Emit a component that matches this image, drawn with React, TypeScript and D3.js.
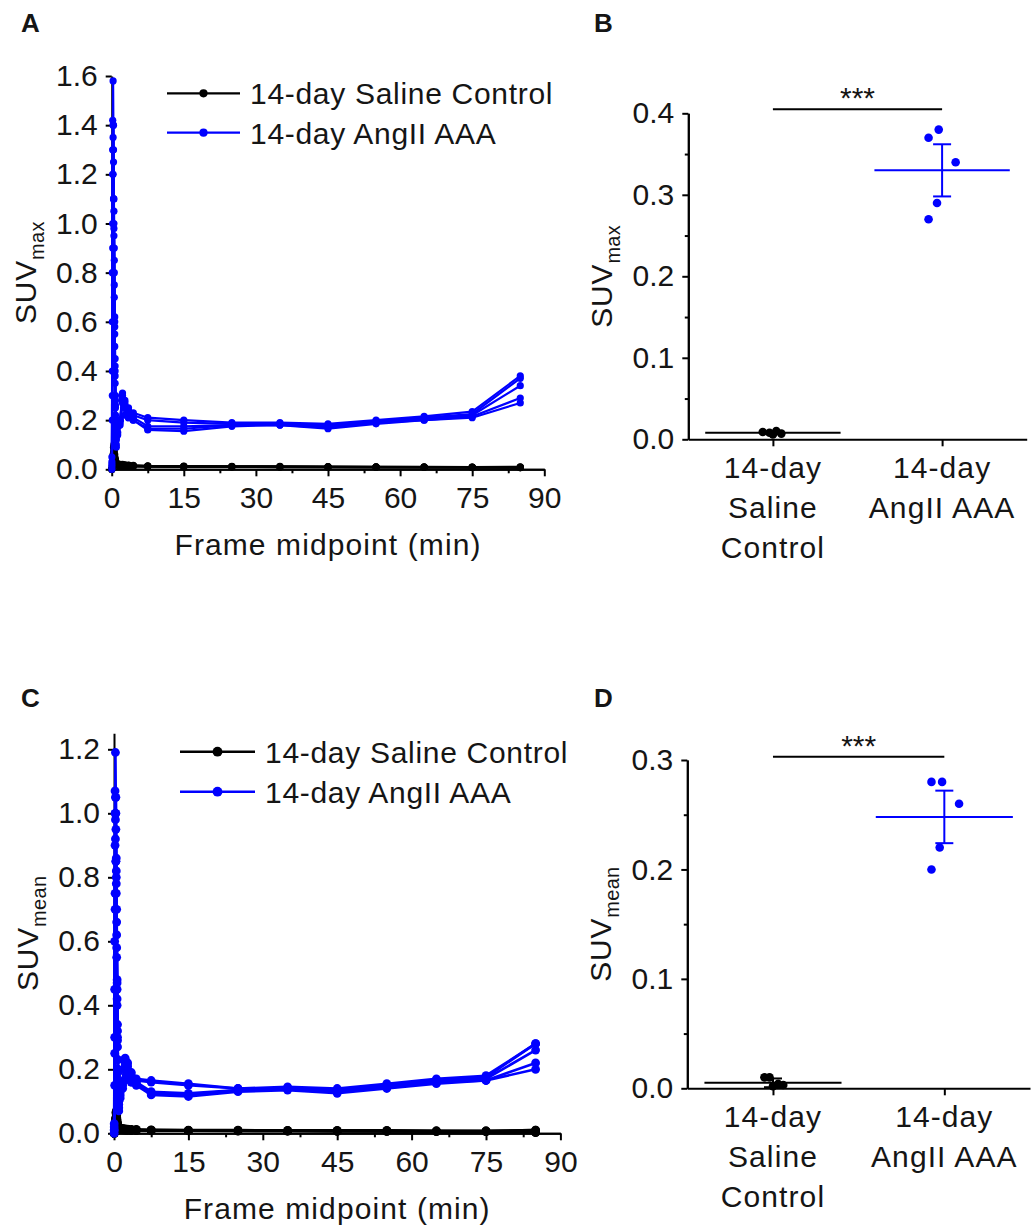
import { useEffect, useRef } from 'react'
import * as d3 from 'd3'

const FONT = '"Liberation Sans", Arial, Helvetica, sans-serif'
const BLACK = '#000000'
const BLUE = '#0000ff'
const TEXT = '#151515'

// frame midpoints (min) of the dynamic scan
const FRAME_MID = [0.04, 0.13, 0.21, 0.29, 0.38, 0.46, 0.54, 0.63, 0.71, 0.79, 0.88, 0.96,
  1.25, 1.75, 2.25, 2.75, 3.5, 4.5, 7.5, 15, 25, 35, 45, 55, 65, 75, 85]
const TIME_TICKS = [0, 15, 30, 45, 60, 75, 90]
const TIME_MINOR = [7.5, 22.5, 37.5, 52.5, 67.5, 82.5]

const LEGEND = ['14-day Saline Control', '14-day AngII AAA']
const CATEGORIES = ['saline', 'angii']
const CATEGORY_LINES = [['14-day', 'Saline', 'Control'], ['14-day', 'AngII AAA']]

// panel A : SUVmax time courses
const SUVMAX_SALINE = [
  [0, 0.01, 0.03, 0.06, 0.09, 0.1, 0.08, 0.06, 0.045, 0.035, 0.03, 0.025, 0.022, 0.02, 0.02, 0.018, 0.017, 0.016, 0.014, 0.013, 0.012, 0.012, 0.011, 0.01, 0.01, 0.009, 0.009],
  [0, 0.005, 0.02, 0.04, 0.07, 0.085, 0.07, 0.05, 0.04, 0.03, 0.025, 0.022, 0.02, 0.019, 0.018, 0.017, 0.016, 0.015, 0.013, 0.012, 0.011, 0.011, 0.01, 0.01, 0.009, 0.008, 0.008],
  [0, 0.015, 0.04, 0.05, 0.06, 0.055, 0.05, 0.045, 0.035, 0.028, 0.024, 0.02, 0.018, 0.017, 0.016, 0.015, 0.014, 0.013, 0.012, 0.011, 0.011, 0.01, 0.01, 0.009, 0.009, 0.009, 0.01],
  [0, 0.008, 0.025, 0.045, 0.05, 0.045, 0.04, 0.035, 0.03, 0.025, 0.022, 0.02, 0.018, 0.016, 0.015, 0.014, 0.013, 0.013, 0.012, 0.011, 0.01, 0.01, 0.009, 0.009, 0.008, 0.008, 0.007],
  [0, 0.004, 0.015, 0.03, 0.04, 0.042, 0.038, 0.032, 0.028, 0.024, 0.02, 0.018, 0.016, 0.015, 0.014, 0.013, 0.012, 0.012, 0.011, 0.01, 0.01, 0.009, 0.009, 0.008, 0.008, 0.007, 0.006],
]
const SUVMAX_ANGII = [
  [0.02, 0.4, 1.2, 1.58, 1.3, 1.0, 0.75, 0.55, 0.4, 0.28, 0.18, 0.12, 0.15, 0.2, 0.31, 0.28, 0.25, 0.23, 0.21, 0.2, 0.19, 0.19, 0.185, 0.2, 0.215, 0.235, 0.38],
  [0.05, 0.8, 1.42, 1.3, 1.1, 0.95, 0.8, 0.6, 0.45, 0.3, 0.2, 0.14, 0.18, 0.19, 0.29, 0.27, 0.24, 0.22, 0.2, 0.19, 0.185, 0.185, 0.18, 0.195, 0.21, 0.225, 0.37],
  [0, 0.2, 0.9, 1.4, 1.25, 1.05, 0.85, 0.62, 0.42, 0.25, 0.15, 0.1, 0.14, 0.2, 0.3, 0.26, 0.22, 0.21, 0.175, 0.175, 0.18, 0.185, 0.175, 0.19, 0.205, 0.22, 0.34],
  [0.03, 0.6, 1.3, 1.2, 1.4, 1.1, 0.9, 0.58, 0.38, 0.22, 0.12, 0.09, 0.19, 0.18, 0.27, 0.25, 0.21, 0.2, 0.165, 0.165, 0.18, 0.18, 0.17, 0.19, 0.2, 0.215, 0.29],
  [0.01, 0.3, 1.0, 1.35, 1.1, 0.98, 0.7, 0.5, 0.35, 0.26, 0.17, 0.13, 0.17, 0.2, 0.28, 0.22, 0.21, 0.2, 0.16, 0.155, 0.175, 0.18, 0.165, 0.185, 0.2, 0.21, 0.27],
]
const SUVMAX_TICKS = [0, 0.2, 0.4, 0.6, 0.8, 1.0, 1.2, 1.4, 1.6]

// panel C : SUVmean time courses
const SUVMEAN_SALINE = [
  [0, 0.008, 0.02, 0.045, 0.065, 0.07, 0.055, 0.042, 0.032, 0.025, 0.02, 0.018, 0.016, 0.015, 0.014, 0.013, 0.012, 0.012, 0.011, 0.01, 0.01, 0.009, 0.009, 0.009, 0.008, 0.008, 0.01],
  [0, 0.004, 0.015, 0.03, 0.05, 0.06, 0.05, 0.036, 0.028, 0.022, 0.018, 0.016, 0.015, 0.014, 0.013, 0.012, 0.011, 0.011, 0.01, 0.009, 0.009, 0.008, 0.008, 0.008, 0.007, 0.007, 0.01],
  [0, 0.01, 0.028, 0.036, 0.042, 0.04, 0.036, 0.032, 0.026, 0.02, 0.017, 0.015, 0.014, 0.013, 0.012, 0.011, 0.01, 0.01, 0.009, 0.008, 0.008, 0.008, 0.007, 0.007, 0.007, 0.006, 0.004],
  [0, 0.006, 0.018, 0.032, 0.036, 0.032, 0.028, 0.025, 0.022, 0.018, 0.016, 0.014, 0.013, 0.012, 0.011, 0.01, 0.01, 0.009, 0.009, 0.008, 0.008, 0.007, 0.007, 0.006, 0.006, 0.005, 0.003],
  [0, 0.003, 0.01, 0.022, 0.028, 0.03, 0.027, 0.023, 0.02, 0.017, 0.014, 0.013, 0.012, 0.011, 0.01, 0.01, 0.009, 0.009, 0.008, 0.008, 0.007, 0.007, 0.006, 0.006, 0.005, 0.005, 0.002],
]
const SUVMEAN_ANGII = [
  [0.01, 0.3, 0.9, 1.19, 1.0, 0.8, 0.58, 0.42, 0.3, 0.2, 0.13, 0.09, 0.12, 0.16, 0.235, 0.22, 0.19, 0.17, 0.165, 0.155, 0.14, 0.145, 0.14, 0.155, 0.17, 0.18, 0.28],
  [0.03, 0.6, 1.07, 0.98, 0.85, 0.75, 0.62, 0.47, 0.34, 0.23, 0.15, 0.1, 0.14, 0.15, 0.22, 0.21, 0.18, 0.165, 0.16, 0.15, 0.14, 0.14, 0.135, 0.15, 0.165, 0.175, 0.28],
  [0, 0.15, 0.7, 1.05, 0.95, 0.82, 0.66, 0.48, 0.32, 0.19, 0.11, 0.08, 0.11, 0.16, 0.23, 0.2, 0.17, 0.16, 0.13, 0.125, 0.135, 0.14, 0.135, 0.15, 0.16, 0.17, 0.26],
  [0.02, 0.45, 1.0, 0.92, 1.05, 0.86, 0.7, 0.45, 0.29, 0.17, 0.09, 0.07, 0.15, 0.14, 0.21, 0.19, 0.16, 0.155, 0.125, 0.12, 0.135, 0.14, 0.13, 0.145, 0.16, 0.165, 0.22],
  [0.01, 0.25, 0.75, 1.0, 0.85, 0.78, 0.55, 0.4, 0.27, 0.2, 0.12, 0.1, 0.13, 0.16, 0.2, 0.17, 0.16, 0.15, 0.12, 0.115, 0.13, 0.135, 0.125, 0.14, 0.155, 0.165, 0.2],
]
const SUVMEAN_TICKS = [0, 0.2, 0.4, 0.6, 0.8, 1.0, 1.2]

// panel B : last-frame SUVmax per animal
const MAX_SALINE_DOTS = [0.009, 0.008, 0.01, 0.007, 0.006]
const MAX_SALINE_JITTER = [-0.06, -0.02, 0.02, 0.05, 0.0]
const MAX_ANGII_DOTS = [0.37, 0.38, 0.34, 0.29, 0.27]
const MAX_ANGII_JITTER = [-0.08, -0.02, 0.08, -0.03, -0.08]
const MAX_MEANS = [0.008, 0.33]
const MAX_ERRS = [0.001, 0.032]
const MAX_SCATTER_TICKS = [0, 0.1, 0.2, 0.3, 0.4]
const MAX_SCATTER_MINOR = [0.05, 0.15, 0.25, 0.35]

// panel D : last-frame SUVmean per animal
const MEAN_SALINE_DOTS = [0.01, 0.01, 0.004, 0.003, 0.002]
const MEAN_SALINE_JITTER = [-0.05, -0.02, 0.03, 0.06, 0.0]
const MEAN_ANGII_DOTS = [0.28, 0.28, 0.26, 0.22, 0.2]
const MEAN_ANGII_JITTER = [-0.075, -0.013, 0.086, -0.027, -0.075]
const MEAN_MEANS = [0.005, 0.248]
const MEAN_ERRS = [0.004, 0.024]
const MEAN_SCATTER_TICKS = [0, 0.1, 0.2, 0.3]
const MEAN_SCATTER_MINOR = [0.05, 0.15, 0.25]

function styleAxis(ax) {
  ax.select('.domain').attr('stroke', BLACK).attr('stroke-width', 2)
  ax.selectAll('.tick line').attr('stroke', BLACK).attr('stroke-width', 2)
  ax.selectAll('text').attr('font-size', 30).attr('font-family', FONT).attr('fill', TEXT)
}

function yLabel(svg, x, y, sub) {
  const t = svg.append('text')
    .attr('transform', `translate(${x},${y}) rotate(-90)`)
    .attr('text-anchor', 'middle')
    .attr('font-family', FONT)
    .attr('font-size', 30)
    .attr('letter-spacing', 0.8)
    .attr('fill', TEXT)
  t.append('tspan').text('SUV')
  t.append('tspan').attr('font-size', 20).attr('letter-spacing', 0.3).attr('dy', 8).text(sub)
}

function panelLetter(svg, x, y, s) {
  svg.append('text').attr('x', x).attr('y', y)
    .attr('font-family', FONT).attr('font-weight', 'bold').attr('font-size', 26)
    .attr('fill', TEXT)
    .text(s)
}

function timeCourse(svg, cfg) {
  const x = d3.scaleLinear().domain([0, 90]).range([cfg.left, cfg.right])
  const y = d3.scaleLinear().domain([0, cfg.yMax]).range([cfg.bottom, cfg.top])

  // minor x ticks
  svg.append('g')
    .attr('transform', `translate(0,${cfg.bottom})`)
    .call(d3.axisBottom(x).tickValues(TIME_MINOR).tickSize(4).tickSizeOuter(0).tickFormat(() => ''))
    .call(styleAxis)

  svg.append('g')
    .attr('transform', `translate(0,${cfg.bottom})`)
    .call(d3.axisBottom(x).tickValues(TIME_TICKS).tickSize(7).tickSizeOuter(0).tickPadding(10))
    .call(styleAxis)

  svg.append('g')
    .attr('transform', `translate(${cfg.left},0)`)
    .call(d3.axisLeft(y).tickValues(cfg.yTicks).tickFormat(d3.format('.1f')).tickSize(6).tickSizeOuter(0).tickPadding(8))
    .call(styleAxis)

  const line = d3.line().x((d, i) => x(FRAME_MID[i])).y(d => y(d))

  const groups = [[cfg.saline, BLACK], [cfg.angii, BLUE]]
  groups.forEach(([rows, color]) => {
    rows.forEach(row => {
      svg.append('path').datum(row)
        .attr('d', line)
        .attr('fill', 'none')
        .attr('stroke', color)
        .attr('stroke-width', cfg.lw)
        .attr('stroke-linejoin', 'round')
      svg.append('g').selectAll('circle')
        .data(row)
        .join('circle')
        .attr('cx', (d, i) => x(FRAME_MID[i]))
        .attr('cy', d => y(d))
        .attr('r', cfg.r)
        .attr('fill', color)
    })
  })

  // legend
  LEGEND.forEach((label, i) => {
    const color = i === 0 ? BLACK : BLUE
    const ly = cfg.legendY + i * cfg.legendGap
    svg.append('line')
      .attr('x1', cfg.legendX).attr('x2', cfg.legendX + cfg.legendLen)
      .attr('y1', ly).attr('y2', ly)
      .attr('stroke', color).attr('stroke-width', cfg.lw)
    svg.append('circle')
      .attr('cx', cfg.legendX + cfg.legendLen / 2).attr('cy', ly)
      .attr('r', cfg.r + 0.5).attr('fill', color)
    svg.append('text')
      .attr('x', cfg.legendX + cfg.legendLen + 10).attr('y', ly)
      .attr('dy', '0.36em')
      .attr('font-family', FONT).attr('font-size', 30).attr('fill', TEXT)
      .attr('letter-spacing', 0.7)
      .text(label)
  })

  svg.append('text')
    .attr('x', (cfg.left + cfg.right) / 2).attr('y', cfg.bottom + 86)
    .attr('text-anchor', 'middle')
    .attr('font-family', FONT).attr('font-size', 30).attr('fill', TEXT)
    .attr('letter-spacing', 1.1)
    .text('Frame midpoint (min)')

  yLabel(svg, cfg.left - 76, (cfg.top + cfg.bottom) / 2, cfg.sub)
}

function scatterPanel(svg, cfg) {
  const x = d3.scalePoint().domain(CATEGORIES).range([cfg.left, cfg.right]).padding(0.5)
  const step = x.step()
  const y = d3.scaleLinear().domain([0, cfg.yMax]).range([cfg.bottom, cfg.top])

  svg.append('g')
    .attr('transform', `translate(${cfg.left},0)`)
    .call(d3.axisLeft(y).tickValues(cfg.minor).tickSize(3.5).tickSizeOuter(0).tickFormat(() => ''))
    .call(styleAxis)
  svg.append('g')
    .attr('transform', `translate(${cfg.left},0)`)
    .call(d3.axisLeft(y).tickValues(cfg.yTicks).tickFormat(d3.format('.1f')).tickSize(6).tickSizeOuter(0).tickPadding(8))
    .call(styleAxis)
  svg.append('g')
    .attr('transform', `translate(0,${cfg.bottom})`)
    .call(d3.axisBottom(x).tickSize(7).tickSizeOuter(0).tickFormat(() => ''))
    .call(styleAxis)

  // category labels
  CATEGORIES.forEach((c, i) => {
    CATEGORY_LINES[i].forEach((s, j) => {
      svg.append('text')
        .attr('x', x(c)).attr('y', cfg.bottom + 39 + j * 40)
        .attr('text-anchor', 'middle')
        .attr('font-family', FONT).attr('font-size', 30).attr('fill', TEXT)
        .attr('letter-spacing', 1.1)
        .text(s)
    })
  })

  const sets = [
    { cat: 'saline', dots: cfg.salineDots, jitter: cfg.salineJitter, color: BLACK, i: 0 },
    { cat: 'angii', dots: cfg.angiiDots, jitter: cfg.angiiJitter, color: BLUE, i: 1 },
  ]
  sets.forEach(s => {
    const cx = x(s.cat)
    const m = cfg.means[s.i]
    const e = cfg.errs[s.i]
    svg.append('g').selectAll('circle')
      .data(s.dots)
      .join('circle')
      .attr('cx', (d, k) => cx + s.jitter[k] * step)
      .attr('cy', d => y(d))
      .attr('r', 4.3)
      .attr('fill', s.color)
    // mean line
    svg.append('line')
      .attr('x1', cx - step * 0.4).attr('x2', cx + step * 0.4)
      .attr('y1', y(m)).attr('y2', y(m))
      .attr('stroke', s.color).attr('stroke-width', 2)
    // error bar
    svg.append('line')
      .attr('x1', cx).attr('x2', cx)
      .attr('y1', y(m - e)).attr('y2', y(m + e))
      .attr('stroke', s.color).attr('stroke-width', 2)
    ;[m - e, m + e].forEach(v => {
      svg.append('line')
        .attr('x1', cx - 9).attr('x2', cx + 9)
        .attr('y1', y(v)).attr('y2', y(v))
        .attr('stroke', s.color).attr('stroke-width', 2)
    })
  })

  // significance bracket
  const sy = y(cfg.sigLevel)
  svg.append('line')
    .attr('x1', x('saline')).attr('x2', x('angii'))
    .attr('y1', sy).attr('y2', sy)
    .attr('stroke', BLACK).attr('stroke-width', 2)
  svg.append('text')
    .attr('x', (x('saline') + x('angii')) / 2).attr('y', sy - 1)
    .attr('text-anchor', 'middle')
    .attr('font-family', FONT).attr('font-size', 30).attr('fill', TEXT)
    .text('***')

  yLabel(svg, cfg.left - 76, (cfg.top + cfg.bottom) / 2, cfg.sub)
}

export default function App() {
  const svgRef = useRef(null)

  useEffect(() => {
    const svg = d3.select(svgRef.current)
    svg.selectAll('*').remove()

    panelLetter(svg, 21, 32, 'A')
    panelLetter(svg, 594, 32, 'B')
    panelLetter(svg, 21, 707, 'C')
    panelLetter(svg, 594, 707, 'D')

    timeCourse(svg, {
      left: 111.7, right: 544.3, top: 76, bottom: 469.3, yMax: 1.6,
      yTicks: SUVMAX_TICKS, saline: SUVMAX_SALINE, angii: SUVMAX_ANGII,
      lw: 2.2, r: 3.6, sub: 'max',
      legendX: 167, legendY: 93.3, legendGap: 39.4, legendLen: 73,
    })

    timeCourse(svg, {
      left: 114, right: 560.4, top: 733.3, bottom: 1133.3, yMax: 1.25,
      yTicks: SUVMEAN_TICKS, saline: SUVMEAN_SALINE, angii: SUVMEAN_ANGII,
      lw: 2.6, r: 4.4, sub: 'mean',
      legendX: 180, legendY: 751.7, legendGap: 40, legendLen: 75,
    })

    scatterPanel(svg, {
      left: 688.3, right: 1026.7, top: 113.3, bottom: 439.3, yMax: 0.4,
      yTicks: MAX_SCATTER_TICKS, minor: MAX_SCATTER_MINOR,
      salineDots: MAX_SALINE_DOTS, salineJitter: MAX_SALINE_JITTER,
      angiiDots: MAX_ANGII_DOTS, angiiJitter: MAX_ANGII_JITTER,
      means: MAX_MEANS, errs: MAX_ERRS, sigLevel: 0.405, sub: 'max',
    })

    scatterPanel(svg, {
      left: 687.3, right: 1030, top: 760, bottom: 1088.3, yMax: 0.3,
      yTicks: MEAN_SCATTER_TICKS, minor: MEAN_SCATTER_MINOR,
      salineDots: MEAN_SALINE_DOTS, salineJitter: MEAN_SALINE_JITTER,
      angiiDots: MEAN_ANGII_DOTS, angiiJitter: MEAN_ANGII_JITTER,
      means: MEAN_MEANS, errs: MEAN_ERRS, sigLevel: 0.303, sub: 'mean',
    })
  }, [])

  return (
    <svg
      ref={svgRef}
      width={1032}
      height={1231}
      style={{ position: 'absolute', left: 0, top: 0, display: 'block', background: '#fff' }}
    />
  )
}
